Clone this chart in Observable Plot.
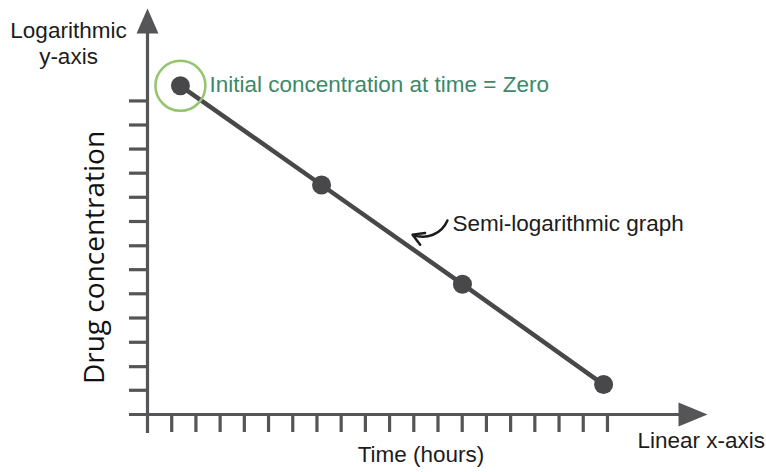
<!DOCTYPE html>
<html>
<head>
<meta charset="utf-8">
<script src="https://cdn.jsdelivr.net/npm/d3@7"></script>
<script src="https://cdn.jsdelivr.net/npm/@observablehq/plot@0.6"></script>
<style>
  html, body { margin: 0; padding: 0; background: #ffffff; }
  #chart svg { display: block; }
</style>
</head>
<body>
<div id="chart"></div>
<script>
// ---- data ----
// time in tick units (one tick per step on the linear x-axis)
const times = [1.36, 7.19, 13.01, 18.84];
// drug concentration (log scale; each y tick is a factor of 2^(1/4))
const concentrations = [10.6, 5.2, 2.55, 1.24];
const xTicks = [1, 2, 3, 4, 5, 6, 7, 8, 9, 10, 11, 12, 13, 14, 15, 16, 17, 18, 19];
const yTicks = [1.19, 1.41, 1.68, 2, 2.38, 2.83, 3.36, 4, 4.76, 5.66, 6.73, 8, 9.51];
const xDomain = [0, 24];
const yDomain = [1, 16];

// annotation texts and anchor (curved pointer: start, end)
const yAxisTitle = "Logarithmic\ny-axis";
const xAxisTitle = "Linear x-axis";
const xLabel = "Time (hours)";
const yLabel = "Drug concentration";
const initialLabel = "Initial concentration at time = Zero";
const curveLabel = "Semi-logarithmic graph";
const pointerTime = [12.39, 10.95];
const pointerConc = [4.03, 3.64];

// ---- build ----
const points = times.map((t, i) => ({time: t, conc: concentrations[i]}));
const pointer = [{x1: pointerTime[0], y1: pointerConc[0], x2: pointerTime[1], y2: pointerConc[1]}];

const W = 766, H = 472, mL = 147, mR = 38, mT = 28, mB = 58;
const frameW = W - mL - mR, frameH = H - mT - mB;
const tickLen = 18;

const axisColor = "#555557";
const dataColor = "#48484a";
const textColor = "#1c1c1c";
const font = "'Liberation Sans', Arial, Helvetica, sans-serif";

const upHead = {draw(ctx) { ctx.moveTo(0, -20); ctx.lineTo(11, 5); ctx.lineTo(-11, 5); ctx.closePath(); }};
const rightHead = {draw(ctx) { ctx.moveTo(-21, 0); ctx.lineTo(-50, -12); ctx.lineTo(-50, 12); ctx.closePath(); }};

const chart = Plot.plot({
  width: W,
  height: H,
  marginLeft: mL,
  marginRight: mR,
  marginTop: mT,
  marginBottom: mB,
  style: {fontFamily: font, background: "#ffffff"},
  x: {domain: xDomain, axis: null},
  y: {type: "log", domain: yDomain, axis: null},
  marks: [
    // axis ticks
    Plot.tickY(yTicks, {y: d => d, stroke: axisColor, strokeWidth: 3.2, insetLeft: -tickLen, insetRight: frameW}),
    Plot.tickX(xTicks, {x: d => d, stroke: axisColor, strokeWidth: 3.2, insetTop: frameH, insetBottom: -tickLen}),
    // axes lines
    Plot.ruleX([xDomain[0]], {x: d => d, stroke: axisColor, strokeWidth: 3.2, insetBottom: -19}),
    Plot.ruleY([yDomain[0]], {y: d => d, stroke: axisColor, strokeWidth: 3.2, insetLeft: -tickLen, insetRight: 38}),
    Plot.dot([0], {frameAnchor: "top-left", symbol: upHead, fill: axisColor, stroke: "none"}),
    Plot.dot([0], {frameAnchor: "bottom-right", symbol: rightHead, fill: axisColor, stroke: "none"}),
    // data
    Plot.line(points, {x: "time", y: "conc", stroke: dataColor, strokeWidth: 4.5}),
    Plot.dot(points, {x: "time", y: "conc", r: 9.5, fill: dataColor, stroke: "none"}),
    Plot.dot(points.slice(0, 1), {x: "time", y: "conc", r: 25, fill: "none", stroke: "#94c46f", strokeWidth: 2.5}),
    // annotations
    Plot.text(points.slice(0, 1), {x: "time", y: "conc", text: () => initialLabel, dx: 29, dy: -1,
      textAnchor: "start", fill: "#3c8868", fontSize: 22.5}),
    Plot.arrow(pointer, {x1: "x1", y1: "y1", x2: "x2", y2: "y2", bend: 45, headLength: 12,
      stroke: textColor, strokeWidth: 2.5}),
    Plot.text(pointer, {x: "x1", y: "y1", text: () => curveLabel, dx: 5, dy: 3,
      textAnchor: "start", fill: textColor, fontSize: 22.5}),
    // axis titles
    Plot.text([yAxisTitle], {text: d => d, frameAnchor: "top-left", dx: -79, dy: 14,
      textAnchor: "middle", lineAnchor: "middle", lineHeight: 1.14, fontSize: 22.5, fill: textColor}),
    Plot.text([xAxisTitle], {text: d => d, frameAnchor: "bottom-right", dx: -91, dy: 33,
      textAnchor: "start", fontSize: 22.5, fill: textColor}),
    Plot.text([xLabel], {text: d => d, frameAnchor: "bottom", dx: -17, dy: 47,
      textAnchor: "middle", fontSize: 22.5, fill: textColor}),
    Plot.text([yLabel], {text: d => d, frameAnchor: "left", dx: -52, dy: 36, rotate: -90,
      textAnchor: "middle", fontSize: 28, fontFamily: "'Open Sans', sans-serif", fill: "#111"})
  ]
});
document.getElementById("chart").appendChild(chart);
</script>
</body>
</html>
